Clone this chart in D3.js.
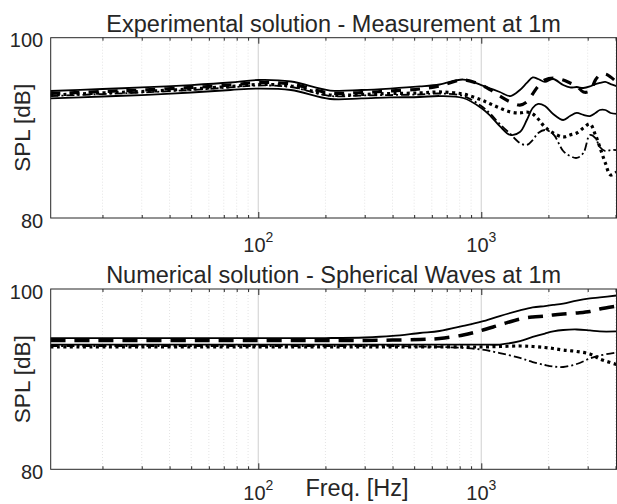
<!DOCTYPE html>
<html>
<head>
<meta charset="utf-8">
<script src="https://cdn.jsdelivr.net/npm/d3@7"></script>
<style>
  body { margin: 0; background: #fff; }
  svg { display: block; }
  text { font-family: "Liberation Sans", Arial, sans-serif; fill: #262626; }
</style>
</head>
<body>
<svg id="chart" width="617" height="504"></svg>
<script>
// Globals.
var WIDTH = 617;
var HEIGHT = 504;
var PLOT_LEFT = 50.7;
var PLOT_RIGHT = 616.5;
var PLOT_HEIGHT = 180.3;
var F_MIN = 11.72;
var F_MAX = 4040;
var DB_MIN = 80;
var DB_MAX = 100;

// Data.
// Experimental solution - measurement at 1m.
var freqTop = [11.7, 20, 30, 50, 75, 100, 140, 210, 290, 390, 530, 650, 830, 1000,
  1100, 1210, 1350, 1490, 1600, 1700, 1800, 1930, 2100, 2330, 2500, 2680, 2870,
  3070, 3250, 3400, 3600, 3800, 4040];
var expSolidHi = [94.09, 94.31, 94.48, 94.75, 95.03, 95.31, 95.14, 94.14, 94.20, 94.36,
  94.59, 94.81, 95.36, 94.75, 94.36, 93.98, 93.53, 94.20, 94.98, 95.59, 95.42, 95.09,
  95.42, 94.75, 94.48, 94.53, 94.42, 94.59, 94.86, 94.98, 95.09, 94.86, 94.64];
var expDashed = [93.81, 94.03, 94.20, 94.48, 94.75, 95.03, 94.86, 93.87, 93.92, 94.09,
  94.31, 94.64, 95.31, 94.75, 94.20, 93.53, 92.87, 92.53, 92.87, 93.75, 94.64, 95.31,
  95.53, 95.31, 94.98, 94.64, 93.98, 94.09, 95.31, 95.86, 95.97, 95.64, 95.09];
var expDotted = [93.64, 93.87, 94.03, 94.31, 94.59, 94.81, 94.64, 93.64, 93.70, 93.81,
  93.87, 93.98, 93.75, 93.09, 92.65, 92.20, 91.76, 91.65, 91.76, 91.54, 90.98, 90.09,
  89.43, 88.99, 89.21, 89.43, 89.98, 90.43, 89.21, 87.88, 86.10, 84.77, 85.10];
var expDashDot = [93.53, 93.75, 93.92, 94.20, 94.48, 94.70, 94.53, 93.53, 93.59, 93.64,
  93.70, 93.81, 93.53, 92.42, 91.54, 90.43, 89.32, 88.32, 88.10, 88.65, 89.43, 89.76,
  89.32, 87.43, 86.88, 86.66, 87.21, 89.21, 88.87, 87.88, 87.43, 87.54, 87.54];
var expSolidLo = [93.26, 93.48, 93.64, 93.92, 94.20, 94.36, 94.20, 93.20, 93.26, 93.37,
  93.42, 93.53, 93.31, 92.20, 91.31, 90.20, 89.21, 89.54, 90.87, 92.20, 92.65, 92.42,
  91.54, 90.87, 91.31, 91.65, 91.43, 91.31, 91.65, 91.98, 91.98, 91.65, 91.54];

// Numerical solution - spherical waves at 1m.
var freqBot = [11.7, 100, 200, 300, 400, 530, 650, 830, 1000, 1210, 1490, 1700, 1930,
  2100, 2330, 2680, 3070, 3400, 4040];
var numSolidHi = [94.56, 94.56, 94.56, 94.62, 94.79, 95.12, 95.34, 95.90, 96.37, 97.00,
  97.62, 97.95, 98.11, 98.23, 98.39, 98.72, 98.95, 99.06, 99.28];
var numDashed = [94.29, 94.29, 94.29, 94.29, 94.34, 94.40, 94.51, 94.90, 95.40, 96.01,
  96.67, 96.89, 97.00, 97.12, 97.23, 97.34, 97.50, 97.78, 98.11];
var numSolidLo = [93.84, 93.84, 93.84, 93.84, 93.84, 93.84, 93.84, 93.84, 93.84, 93.84,
  94.23, 94.68, 95.06, 95.29, 95.45, 95.51, 95.40, 95.29, 95.29];
var numDotted = [93.57, 93.57, 93.57, 93.57, 93.57, 93.57, 93.57, 93.57, 93.57, 93.62,
  93.68, 93.62, 93.51, 93.40, 93.23, 93.07, 92.79, 92.24, 91.63];
var numDashDot = [93.68, 93.68, 93.68, 93.68, 93.68, 93.62, 93.57, 93.46, 93.29, 92.90,
  92.35, 91.90, 91.57, 91.40, 91.35, 91.68, 92.29, 92.62, 92.96];

var majorTicks = [100, 1000];
var minorTicks = [20, 30, 40, 50, 60, 70, 80, 90, 200, 300, 400, 500, 600, 700, 800, 900,
  2000, 3000, 4000];
var yTicks = [80, 100];

var svg = d3.select('#chart');

var x = d3.scaleLog().domain([F_MIN, F_MAX]).range([PLOT_LEFT, PLOT_RIGHT]);

/**
 * drawPanel
 * =========
 * Draws one subplot: grid, curves, box, ticks and texts.
 */
var drawPanel = function(top, title, freqs, series, tickLabelY) {
  var y = d3.scaleLinear().domain([DB_MIN, DB_MAX]).range([top + PLOT_HEIGHT, top]);
  var g = svg.append('g');

  // grid
  g.selectAll('line.minor').data(minorTicks.filter(function(d){ return d < F_MAX; }))
    .enter().append('line')
    .attr('x1', function(d){ return x(d); })
    .attr('x2', function(d){ return x(d); })
    .attr('y1', top).attr('y2', top + PLOT_HEIGHT)
    .attr('stroke', '#e4e4e4').attr('stroke-width', 1)
    .attr('stroke-dasharray', '1,2');
  g.selectAll('line.major').data(majorTicks)
    .enter().append('line')
    .attr('x1', function(d){ return x(d); })
    .attr('x2', function(d){ return x(d); })
    .attr('y1', top).attr('y2', top + PLOT_HEIGHT)
    .attr('stroke', '#dadada').attr('stroke-width', 1.3);

  // curves
  series.forEach(function(s) {
    var line = d3.line()
      .x(function(d, i){ return x(freqs[i]); })
      .y(function(d){ return y(d); })
      .curve(d3.curveCatmullRom.alpha(0.5));
    g.append('path')
      .datum(s.values)
      .attr('d', line)
      .attr('fill', 'none')
      .attr('stroke', '#000')
      .attr('stroke-width', s.width)
      .attr('stroke-dasharray', s.dash)
      .attr('stroke-linejoin', 'round');
  });

  // ticks, bottom and top, pointing inward
  var bottomMinor = d3.axisBottom(x).tickValues(minorTicks).tickSize(-3).tickSizeOuter(0).tickFormat('');
  var bottomMajor = d3.axisBottom(x).tickValues(majorTicks).tickSize(-6).tickSizeOuter(0).tickFormat('');
  var topMinor = d3.axisTop(x).tickValues(minorTicks).tickSize(-3).tickSizeOuter(0).tickFormat('');
  var topMajor = d3.axisTop(x).tickValues(majorTicks).tickSize(-6).tickSizeOuter(0).tickFormat('');
  [[bottomMinor, top + PLOT_HEIGHT], [bottomMajor, top + PLOT_HEIGHT],
   [topMinor, top], [topMajor, top]].forEach(function(a) {
    var ax = g.append('g').attr('transform', 'translate(0,' + a[1] + ')').call(a[0]);
    ax.select('.domain').remove();
    ax.selectAll('line').attr('stroke', '#262626').attr('stroke-width', 1);
  });

  // y axis labels
  var left = g.append('g')
    .attr('transform', 'translate(' + PLOT_LEFT + ',0)')
    .call(d3.axisLeft(y).tickValues(yTicks).tickSize(0).tickPadding(7.5));
  left.select('.domain').remove();
  left.selectAll('text')
    .attr('font-size', 20)
    .attr('font-family', '"Liberation Sans", Arial, sans-serif')
    .attr('fill', '#262626')
    .attr('dy', '0.45em');

  // box
  g.append('rect')
    .attr('x', PLOT_LEFT).attr('y', top)
    .attr('width', PLOT_RIGHT - PLOT_LEFT).attr('height', PLOT_HEIGHT)
    .attr('fill', 'none').attr('stroke', '#262626').attr('stroke-width', 1);

  // x tick labels 10^n
  var lbl = g.selectAll('text.xlab').data(majorTicks)
    .enter().append('text')
    .attr('x', function(d){ return x(d); })
    .attr('y', tickLabelY)
    .attr('text-anchor', 'middle')
    .attr('font-size', 20);
  lbl.append('tspan').text('10');
  lbl.append('tspan')
    .attr('font-size', 14)
    .attr('dy', -10)
    .text(function(d){ return Math.round(Math.log10(d)); });

  // title
  g.append('text')
    .attr('x', (PLOT_LEFT + PLOT_RIGHT) / 2)
    .attr('y', top - 6)
    .attr('text-anchor', 'middle')
    .attr('font-size', 23.5)
    .text(title);

  // y label
  g.append('text')
    .attr('transform', 'translate(30,' + (top + PLOT_HEIGHT / 2) + ') rotate(-90)')
    .attr('text-anchor', 'middle')
    .attr('font-size', 22.5)
    .text('SPL [dB]');
};

drawPanel(37.7, 'Experimental solution - Measurement at 1m', freqTop, [
  {values: expSolidHi, width: 1.8, dash: null},
  {values: expSolidLo, width: 1.8, dash: null},
  {values: expDashDot, width: 1.8, dash: '8,3,2,3'},
  {values: expDotted, width: 3.2, dash: '3,3.5'},
  {values: expDashed, width: 3.2, dash: '10,9'}
], 252);

drawPanel(289, 'Numerical solution - Spherical Waves at 1m', freqBot, [
  {values: numSolidHi, width: 1.8, dash: null},
  {values: numSolidLo, width: 1.8, dash: null},
  {values: numDashDot, width: 1.8, dash: '8,3,2,3'},
  {values: numDotted, width: 3.2, dash: '3,3.5'},
  {values: numDashed, width: 3.5, dash: '15,9'}
], 499.5);

// x label
svg.append('text')
  .attr('x', 357)
  .attr('y', 496)
  .attr('text-anchor', 'middle')
  .attr('font-size', 23.5)
  .text('Freq. [Hz]');
</script>
</body>
</html>
